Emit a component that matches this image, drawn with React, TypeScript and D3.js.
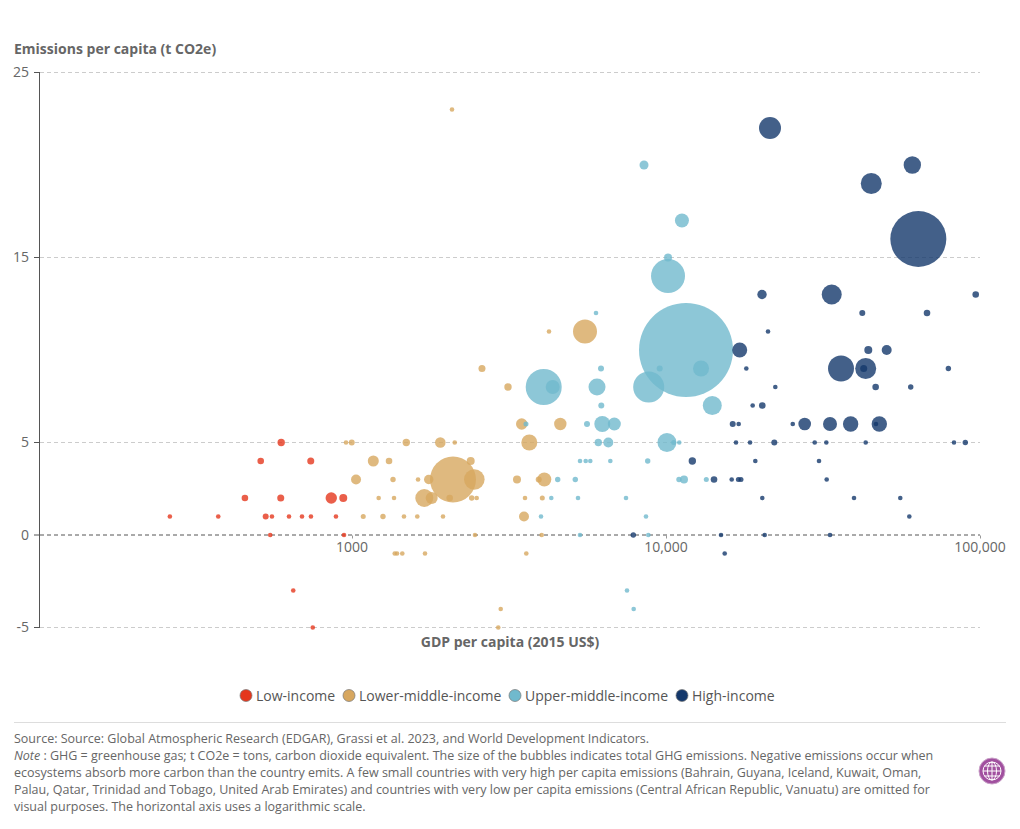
import React from "react";
import * as d3 from "d3";

// Each row: [GDP per capita (2015 US$), emissions per capita (t CO2e), total emissions (Mt CO2e, approx.)]
type Row = [number, number, number];

const lowIncome: Row[] = [
  [595, 5, 82], [512, 4, 65], [739, 4, 74], [456, 2, 65], [593, 2, 74], [859, 2, 195], [938, 2, 96],
  [263, 1, 32], [375, 1, 32], [531, 1, 54], [556, 1, 32], [630, 1, 32], [693, 1, 32], [740, 1, 32], [889, 1, 32],
  [549, 0, 32], [943, 0, 32], [650, -3, 32], [750, -5, 32],
];

const lowerMiddleIncome: Row[] = [
  [2097, 3, 3174], [2452, 3, 637], [5521, 11, 864], [1699, 2, 486], [3670, 5, 384], [4097, 3, 294], [1794, 2, 216],
  [1911, 5, 169], [1169, 4, 182], [1030, 3, 150], [1755, 3, 133], [3471, 6, 195], [4607, 6, 231], [3530, 1, 150],
  [2388, 4, 96], [1489, 5, 82], [1312, 4, 65], [3353, 3, 96], [3139, 8, 82], [2594, 9, 74], [2047, 2, 65],
  [3932, 3, 54], [998, 5, 54], [1351, 3, 44], [2406, 2, 44], [4037, 2, 38], [1086, 1, 38], [1255, 1, 44],
  [957, 5, 32], [2124, 5, 32], [1623, 3, 32], [1216, 2, 32], [1361, 2, 32], [2495, 2, 32], [3556, 2, 32],
  [1464, 1, 32], [1614, 1, 32], [1949, 1, 32], [2464, 0, 32], [4019, 0, 32], [1368, -1, 32], [1391, -1, 32],
  [1446, -1, 32], [1708, -1, 32], [3590, -1, 32], [2976, -4, 32], [2923, -5, 32], [2082, 23, 32], [4240, 11, 32],
];

const upperMiddleIncome: Row[] = [
  [11580, 10, 13254], [4079, 8, 1944], [10150, 14, 1734], [8808, 8, 1442], [14040, 7, 542], [10070, 5, 542],
  [6029, 8, 434], [12930, 9, 384], [6268, 6, 384], [11240, 17, 294], [4357, 8, 294], [6846, 6, 254],
  [8511, 20, 122], [6550, 5, 150], [10150, 15, 96], [6087, 5, 82], [11410, 3, 96],
  [5985, 12, 32], [6208, 9, 54], [9548, 9, 54], [6222, 7, 54], [3582, 6, 38], [5603, 6, 54], [10580, 5, 38],
  [11020, 5, 32], [5323, 4, 32], [5550, 4, 32], [5740, 4, 32], [6647, 4, 32], [8744, 4, 44], [4520, 3, 44],
  [5142, 3, 44], [11000, 3, 44], [13440, 3, 38], [4312, 2, 32], [5245, 2, 32], [7458, 2, 32], [3999, 1, 32],
  [8635, 1, 32], [5323, 0, 32], [8783, 0, 32], [7513, -3, 32], [7890, -4, 32],
];

const highIncome: Row[] = [
  [63620, 16, 4704], [36090, 9, 1014], [21440, 22, 726], [45050, 19, 662], [43250, 9, 662], [33710, 13, 600],
  [60880, 20, 454], [38730, 6, 356], [47790, 6, 356], [17170, 10, 338], [33290, 6, 294], [27650, 6, 238],
  [50450, 10, 150], [20220, 13, 133], [44080, 10, 96], [12130, 4, 82], [96900, 13, 65], [67800, 12, 65],
  [46520, 8, 65], [20260, 7, 65], [14220, 3, 65], [42620, 9, 74], [42180, 12, 54], [16310, 6, 54],
  [22130, 5, 54], [79300, 9, 44], [60170, 8, 44], [89790, 5, 44], [7868, 0, 44], [21130, 11, 32], [18020, 9, 32],
  [22290, 8, 32], [18880, 7, 32], [17040, 6, 32], [25330, 6, 32], [46630, 6, 32], [16710, 5, 32], [18520, 5, 32],
  [29760, 5, 32], [32400, 5, 32], [43250, 5, 32], [82640, 5, 32], [19250, 4, 32], [30710, 4, 32], [16190, 3, 32],
  [17000, 3, 38], [17330, 3, 38], [32490, 3, 32], [20260, 2, 32], [39700, 2, 32], [55730, 2, 32], [59550, 1, 32],
  [14970, 0, 32], [20620, 0, 32], [33290, 0, 32], [15380, -1, 32],
];

const seriesNames = ["Low-income", "Lower-middle-income", "Upper-middle-income", "High-income"];
const seriesRows = [lowIncome, lowerMiddleIncome, upperMiddleIncome, highIncome];
const seriesColors = ["#e5371d", "#d7a75f", "#70b9cd", "#14386b"];
const legendCenters = [246, 349, 515, 682];

const xTickValues = [1000, 10000, 100000];
const xTickLabels = ["1000", "10,000", "100,000"];
const yTickValues = [25, 15, 5, 0, -5];

const sourceLine = "Source: Source: Global Atmospheric Research (EDGAR), Grassi et al. 2023, and World Development Indicators.";
const noteLines = [
  " : GHG = greenhouse gas; t CO2e = tons, carbon dioxide equivalent. The size of the bubbles indicates total GHG emissions. Negative emissions occur when",
  "ecosystems absorb more carbon than the country emits. A few small countries with very high per capita emissions (Bahrain, Guyana, Iceland, Kuwait, Oman,",
  "Palau, Qatar, Trinidad and Tobago, United Arab Emirates) and countries with very low per capita emissions (Central African Republic, Vanuatu) are omitted for",
  "visual purposes. The horizontal axis uses a logarithmic scale.",
];

const FONT = "'Open Sans', sans-serif";
const TEXT = "#666";

export default function App() {
  const x = d3.scaleLog().domain([1000, 100000]).range([352, 980]);
  const y = d3.scaleLinear().domain([-5, 25]).range([627, 72]);
  const r = d3.scaleSqrt().domain([0, 13254]).range([0, 47]);

  return (
    <svg
      width={1020}
      height={829}
      style={{ position: "absolute", left: 0, top: 0, fontFamily: FONT }}
    >
      <rect width={1020} height={829} fill="#fff" />
      <text x={14} y={54} fontSize={14} fontWeight={700} fill={TEXT}>Emissions per capita (t CO2e)</text>

      {yTickValues.map((v) => (
        <g key={v}>
          <line
            x1={40} x2={980} y1={y(v) + 0.5} y2={y(v) + 0.5}
            stroke={v === 0 ? "#555" : "#ccc"}
            strokeDasharray={v === 0 ? "4 3" : "4 3"}
          />
          <line x1={34} x2={40} y1={y(v) + 0.5} y2={y(v) + 0.5} stroke="#555" />
          <text x={29} y={y(v) + 5} textAnchor="end" fontSize={14} fill={TEXT}>{v}</text>
        </g>
      ))}
      <line x1={39.5} x2={39.5} y1={y(25)} y2={y(-5) + 1} stroke="#555" />

      {xTickValues.map((v, i) => (
        <g key={v}>
          <line x1={x(v) + 0.5} x2={x(v) + 0.5} y1={y(0) + 1} y2={y(0) + 4} stroke="#999" />
          <text x={x(v)} y={552} textAnchor="middle" fontSize={14} fill={TEXT}>{xTickLabels[i]}</text>
        </g>
      ))}

      {seriesRows.map((rows, s) => (
        <g key={seriesNames[s]} fill={seriesColors[s]} fillOpacity={0.8}>
          {rows.map((d, i) => (
            <circle key={i} cx={x(d[0])} cy={y(d[1]) + 0.5} r={r(d[2])} />
          ))}
        </g>
      ))}

      <text x={510} y={647} textAnchor="middle" fontSize={14} fontWeight={700} fill={TEXT}>GDP per capita (2015 US$)</text>

      {seriesNames.map((name, i) => (
        <g key={name}>
          <circle cx={legendCenters[i]} cy={695.5} r={6} fill={seriesColors[i]} stroke="#777" strokeOpacity={0.7} />
          <text x={legendCenters[i] + 10} y={700.5} fontSize={14} fill="#555">{name}</text>
        </g>
      ))}

      <line x1={14} x2={1006} y1={722.5} y2={722.5} stroke="#ddd" />
      <g fontSize={12.5} fill={TEXT}>
        <text x={14} y={743}>{sourceLine}</text>
        {noteLines.map((line, i) => (
          <text key={i} x={14} y={760 + i * 17}>
            {i === 0 && <tspan fontStyle="italic">Note</tspan>}
            {line}
          </text>
        ))}
      </g>

      <g transform="translate(992,771)" fill="none" stroke="#fff" strokeWidth={1}>
        <circle r={13} fill="#a1509f" stroke="#c9a0c8" />
        <circle r={9} />
        <ellipse rx={4.5} ry={9} />
        <line x1={-9} x2={9} y1={0} y2={0} />
        <line x1={-7.5} x2={7.5} y1={-5} y2={-5} />
        <line x1={-7.5} x2={7.5} y1={5} y2={5} />
        <line x1={0} x2={0} y1={-9} y2={9} />
      </g>
    </svg>
  );
}
